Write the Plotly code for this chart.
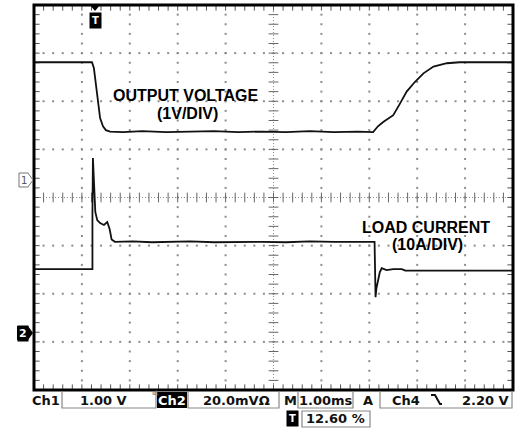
import plotly.graph_objects as go

# Channel 1: output voltage (V), time in ms relative to trigger
v_time = [-1.26, -0.05, -0.01, 0.03, 0.08, 0.12, 0.18, 0.24, 0.33, 0.6, 1.0, 1.5, 2.0, 2.5,
          3.0, 3.5, 4.0, 4.5, 5.0, 5.5, 5.82, 5.92, 6.03, 6.13, 6.24, 6.38, 6.52, 6.69, 6.87,
          7.08, 7.36, 7.63, 8.74]
v_volts = [2.45, 2.45, 2.33, 1.98, 1.56, 1.29, 1.12, 1.04, 1.01, 1.00, 1.02, 1.00, 1.01, 1.02,
           1.00, 1.01, 1.00, 1.02, 1.00, 1.01, 1.00, 1.12, 1.21, 1.28, 1.35, 1.59, 1.84, 2.04, 2.22,
           2.36, 2.43, 2.45, 2.45]

# Channel 2: load current (A)
i_time = [-1.26, -0.04, -0.04, -0.03, 0.00, 0.02, 0.06, 0.12, 0.20, 0.27, 0.32, 0.36, 0.43,
          0.8, 1.2, 1.6, 2.0, 2.5, 3.0, 3.5, 4.0, 4.5, 5.0, 5.5, 5.85, 5.87, 5.89, 5.96, 6.00,
          6.10, 6.24, 6.42, 6.49, 8.74]
i_amps = [13.3, 13.3, 24.5, 36.4, 29.7, 25.2, 23.5, 22.9, 22.5, 23.1, 21.6, 19.5, 19.0,
          19.1, 18.9, 19.0, 19.1, 18.9, 19.0, 19.0, 18.9, 19.1, 19.0, 19.0, 19.0, 7.5, 9.4, 12.7, 13.5,
          13.1, 13.3, 13.3, 13.0, 13.0]

# scope settings
ms_per_div = 1.0
trigger_pos = 0.126          # 12.60 %
ch1_v_per_div, ch1_pos = 1.0, 0.36    # position in divisions
ch2_a_per_div, ch2_pos = 10.0, -2.82
n_hdiv, n_vdiv = 10, 8

status_labels = ["Ch1", "1.00 V", "Ch2", "20.0mVΩ", "M", "1.00ms", "A", "Ch4", "2.20 V", "12.60 %"]

# ---------------- layout geometry ----------------
W, H = 518, 432
L, R, T, B = 34, 5, 5, 42
pw, ph = W - L - R, H - T - B

t0 = -trigger_pos * n_hdiv * ms_per_div
t1 = t0 + n_hdiv * ms_per_div


def px(x):
    return (x - L) / pw


def py(y):
    return (H - B - y) / ph


fig = go.Figure()

grid_col = "#8c8c8c"

# graticule dots
gx, gy = [], []
for k in range(1, n_hdiv):
    if k == n_hdiv // 2:
        continue
    for j in range(1, n_vdiv * 5):
        gx.append(t0 + k * ms_per_div)
        gy.append(-n_vdiv / 2 + j / 5)
for m in range(1, n_vdiv):
    if m == n_vdiv // 2:
        continue
    for j in range(1, n_hdiv * 5):
        gx.append(t0 + j / 5 * ms_per_div)
        gy.append(-n_vdiv / 2 + m)
fig.add_trace(go.Scatter(x=gx, y=gy, mode="markers", yaxis="y",
                         marker=dict(size=2, color=grid_col, symbol="square"),
                         hoverinfo="skip", showlegend=False))

# center lines (fine dotted)
tc = t0 + n_hdiv / 2 * ms_per_div
fig.add_shape(type="line", x0=t0, x1=t1, y0=0, y1=0, xref="x", yref="y",
              line=dict(color=grid_col, width=1, dash="1px,2px"), layer="below")
fig.add_shape(type="line", x0=tc, x1=tc, y0=-n_vdiv / 2, y1=n_vdiv / 2, xref="x", yref="y",
              line=dict(color=grid_col, width=1, dash="1px,2px"), layer="below")

# center tick marks
cx = [t0 + j / 5 * ms_per_div for j in range(1, n_hdiv * 5)]
fig.add_trace(go.Scatter(x=cx, y=[0] * len(cx), mode="markers", yaxis="y",
                         marker=dict(symbol="line-ns", size=7, line=dict(width=1, color="#666")),
                         hoverinfo="skip", showlegend=False))
cy = [-n_vdiv / 2 + j / 5 for j in range(1, n_vdiv * 5)]
fig.add_trace(go.Scatter(x=[tc] * len(cy), y=cy, mode="markers", yaxis="y",
                         marker=dict(symbol="line-ew", size=7, line=dict(width=1, color="#666")),
                         hoverinfo="skip", showlegend=False))

# border ticks
bx = cx + cx
by = [n_vdiv / 2] * len(cx) + [-n_vdiv / 2] * len(cx)
fig.add_trace(go.Scatter(x=bx, y=by, mode="markers", yaxis="y",
                         marker=dict(symbol="line-ns", size=8, line=dict(width=1, color="#555")),
                         hoverinfo="skip", showlegend=False))
fig.add_trace(go.Scatter(x=[t0] * len(cy) + [t1] * len(cy), y=cy + cy, mode="markers", yaxis="y",
                         marker=dict(symbol="line-ew", size=8, line=dict(width=1, color="#555")),
                         hoverinfo="skip", showlegend=False))

# waveforms
fig.add_trace(go.Scatter(x=v_time, y=v_volts, mode="lines", yaxis="y2",
                         line=dict(color="#111", width=1.8), showlegend=False))
fig.add_trace(go.Scatter(x=i_time, y=i_amps, mode="lines", yaxis="y3",
                         line=dict(color="#111", width=1.8), showlegend=False))

# frame
fig.add_shape(type="rect", xref="paper", yref="paper", x0=0, x1=1, y0=0, y1=1,
              line=dict(color="black", width=3))

# trace labels
lab_font = dict(family="Liberation Sans, Arial", size=16, color="black")
for txt, x, y in [("<b>OUTPUT VOLTAGE</b>", 1.91, 2.11), ("<b>(1V/DIV)</b>", 1.95, 1.75),
                  ("<b>LOAD CURRENT</b>", 6.92, -0.63), ("<b>(10A/DIV)</b>", 6.95, -0.97)]:
    fig.add_annotation(x=x, y=y, xref="x", yref="y", text=txt, showarrow=False,
                       font=lab_font, xanchor="center", yanchor="middle")

# trigger marker at top
fig.add_shape(type="path", xref="paper", yref="paper",
              path=f"M {px(90)} {py(5)} L {px(100)} {py(5)} L {px(95)} {py(11)} Z",
              fillcolor="black", line=dict(width=0))
fig.add_annotation(x=px(95), y=py(20), xref="paper", yref="paper", text="<b>T</b>", showarrow=False,
                   font=dict(family="DejaVu Sans", size=10, color="white"), bgcolor="black",
                   borderpad=2, xanchor="center", yanchor="middle")

# channel ground markers
m1 = py(180)
fig.add_shape(type="path", xref="paper", yref="paper",
              path=f"M {px(19)} {py(173)} L {px(28)} {py(173)} L {px(33)} {m1} L {px(28)} {py(187)} L {px(19)} {py(187)} Z",
              fillcolor="white", line=dict(width=1, color="#777"))
fig.add_annotation(x=px(24), y=m1, xref="paper", yref="paper", text="1", showarrow=False,
                   font=dict(family="DejaVu Sans", size=10, color="#555"), borderpad=0,
                   xanchor="center", yanchor="middle")
m2 = py(333)
fig.add_shape(type="path", xref="paper", yref="paper",
              path=f"M {px(17)} {py(326)} L {px(28)} {py(326)} L {px(33)} {m2} L {px(28)} {py(340)} L {px(17)} {py(340)} Z",
              fillcolor="black", line=dict(width=0))
fig.add_annotation(x=px(23), y=m2, xref="paper", yref="paper", text="<b>2</b>", showarrow=False,
                   font=dict(family="DejaVu Sans", size=11, color="white"), bgcolor="black",
                   borderpad=1, xanchor="center", yanchor="middle")

# status bar
box_col = "#888"


def open_box(x0, x1, y0=391, y1=408):
    fig.add_shape(type="path", xref="paper", yref="paper",
                  path=f"M {px(x0)} {py(y0)} L {px(x0)} {py(y1)} L {px(x1)} {py(y1)} L {px(x1)} {py(y0)}",
                  line=dict(color=box_col, width=1.2))


open_box(62, 156)
open_box(188, 279)
open_box(298, 353)
open_box(380, 512)
fig.add_shape(type="rect", xref="paper", yref="paper", x0=px(157), x1=px(187), y0=py(408), y1=py(392),
              fillcolor="black", line=dict(width=0))
fig.add_shape(type="rect", xref="paper", yref="paper", x0=px(302), x1=px(370), y0=py(427), y1=py(411),
              line=dict(color=box_col, width=1.2))
fig.add_annotation(x=px(292), y=py(419), xref="paper", yref="paper", text="<b>T</b>", showarrow=False,
                   font=dict(family="DejaVu Sans", size=10, color="white"), bgcolor="black",
                   borderpad=2, xanchor="center", yanchor="middle")

centers = [(46, 400), (103.5, 400), (172, 400), (236, 400), (290, 400), (326, 400), (368, 400),
           (406, 400), (485, 400), (335, 419)]
for lab, (cxp, cyp) in zip(status_labels, centers):
    col = "white" if lab == "Ch2" else "#111"
    fig.add_annotation(x=px(cxp), y=py(cyp), xref="paper", yref="paper", text=f"<b>{lab}</b>",
                       showarrow=False, font=dict(family="DejaVu Sans", size=13, color=col),
                       xanchor="center", yanchor="middle", borderpad=0)

# bandwidth-limit icon and falling-edge icon
fig.add_annotation(x=px(151), y=py(398), xref="paper", yref="paper", text="ʙ\\", showarrow=False,
                   font=dict(family="DejaVu Sans", size=7, color="#777"), borderpad=0)
fig.add_shape(type="path", xref="paper", yref="paper",
              path=f"M {px(431)} {py(395)} L {px(435)} {py(395)} L {px(440)} {py(404)} L {px(442)} {py(404)}",
              line=dict(color="#111", width=2))

fig.update_layout(
    width=W, height=H,
    margin=dict(l=L, r=R, t=T, b=B),
    paper_bgcolor="white", plot_bgcolor="white",
    xaxis=dict(range=[t0, t1], visible=False, showgrid=False, zeroline=False),
    yaxis=dict(range=[-n_vdiv / 2, n_vdiv / 2], visible=False, showgrid=False, zeroline=False),
    yaxis2=dict(range=[(-n_vdiv / 2 - ch1_pos) * ch1_v_per_div, (n_vdiv / 2 - ch1_pos) * ch1_v_per_div],
                overlaying="y", visible=False, showgrid=False, zeroline=False),
    yaxis3=dict(range=[(-n_vdiv / 2 - ch2_pos) * ch2_a_per_div, (n_vdiv / 2 - ch2_pos) * ch2_a_per_div],
                overlaying="y", visible=False, showgrid=False, zeroline=False),
    showlegend=False,
)

fig.write_html("out.html", config={"displayModeBar": False},
               post_script="document.body.style.margin='0';document.body.style.overflow='hidden';")
